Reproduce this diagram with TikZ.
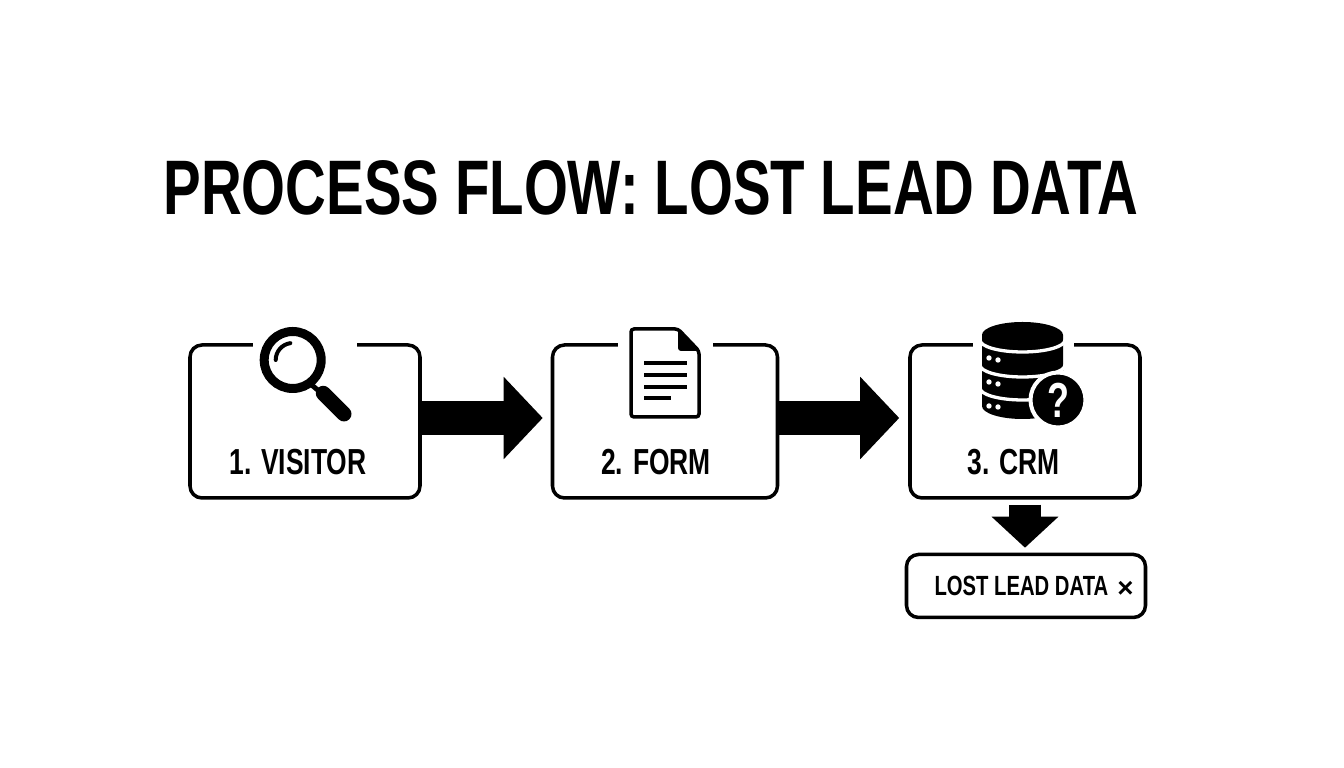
\documentclass[tikz,border=0pt]{standalone}
\usepackage{fontspec}
\setmainfont[FakeStretch=0.73]{Liberation Sans}
\newfontfamily\crossfont{Liberation Sans}
\usetikzlibrary{arrows.meta}
\newcommand{\titlefont}{\fontsize{22}{24}\selectfont\bfseries}
\newcommand{\stagefont}{\fontsize{10.3}{12}\selectfont\bfseries}
\newcommand{\lostfont}{\fontsize{7.9}{9}\selectfont\bfseries}
\tikzset{
  stagebox/.style={draw, line width=1pt, rounded corners=0.12cm, minimum height=1.53cm, inner sep=0pt},
  flowarrow/.style={line width=0.34cm, -{Triangle[length=0.39cm, width=0.8cm]}},
  downarrow/.style={line width=0.32cm, -{Triangle[length=0.31cm, width=0.65cm]}},
}

\begin{document}
\begin{tikzpicture}
      \useasboundingbox (0, 0) rectangle (13.44, 7.68);
      \node (title) at (6.51, 5.80) {\titlefont PROCESS FLOW: LOST LEAD DATA};
      \node[stagebox, minimum width=2.30cm] (visitor) at (3.05, 3.465) {};
      \node[stagebox, minimum width=2.25cm] (form) at (6.65, 3.465) {};
      \node[stagebox, minimum width=2.30cm] (crm) at (10.25, 3.465) {};
      \node[stagebox, minimum width=2.39cm, minimum height=0.63cm] (lost) at (10.26, 1.82) {};
      \node (lvisitor) at (2.98, 3.06) {\stagefont 1. VISITOR};
      \node (lform) at (6.56, 3.06) {\stagefont 2. FORM};
      \node (lcrm) at (10.14, 3.06) {\stagefont 3. CRM};
      \node (llost) at (10.34, 1.815) {\lostfont LOST LEAD DATA\kern0.09cm\raisebox{-0.02cm}{\crossfont\bfseries ×}};
      \draw[flowarrow, shorten >=0.08cm] ([yshift=0.035cm]visitor.east) -- ([yshift=0.035cm]form.west);
      \draw[flowarrow, shorten >=0.09cm] ([yshift=0.035cm]form.east) -- ([yshift=0.035cm]crm.west);
      \draw[downarrow, shorten <=0.05cm, shorten >=0.05cm] (crm.south) -- (crm.south |- lost.north);
      % gaps in the top edges
      \fill[white] (2.53, 4.15) rectangle (3.57, 4.33);
      \fill[white] (6.18, 4.15) rectangle (7.13, 4.33);
      \fill[white] (9.73, 4.15) rectangle (10.74, 4.33);
      % magnifier
      \draw[line width=0.09cm] (2.927, 4.08) circle (0.285);
      \draw[line width=0.04cm, line cap=round] (2.757, 4.08) arc[start angle=180, end angle=98, radius=0.17];
      \draw[line width=0.05cm] (3.117, 3.83) -- (3.217, 3.747);
      \draw[line width=0.15cm, line cap=round] (3.233, 3.747) -- (3.44, 3.54);
      % document
      \draw[line width=0.035cm, rounded corners=0.03cm] (6.31, 3.51) -- (6.31, 4.39) -- (6.78, 4.39) -- (6.99, 4.17) -- (6.99, 3.51) -- cycle;
      \fill[rounded corners=0.03cm] (6.78, 4.40) -- (7.00, 4.17) -- (6.78, 4.17) -- cycle;
      \draw[line width=0.045cm] (6.44, 4.05) -- (6.87, 4.05);
      \draw[line width=0.045cm] (6.44, 3.93) -- (6.87, 3.93);
      \draw[line width=0.045cm] (6.44, 3.81) -- (6.87, 3.81);
      \draw[line width=0.045cm] (6.44, 3.70) -- (6.71, 3.70);
      % database
      \fill (10.225, 4.33) ellipse (0.405 and 0.13);
      \fill (9.82, 4.33) -- (9.82, 3.62) arc[start angle=180, end angle=360, x radius=0.405, y radius=0.13] -- (10.63, 4.33) -- cycle;
      \draw[white, line width=0.033cm] (9.80, 4.28) arc[start angle=180, end angle=360, x radius=0.425, y radius=0.12];
      \draw[white, line width=0.033cm] (9.80, 4.03) arc[start angle=180, end angle=360, x radius=0.425, y radius=0.12];
      \draw[white, line width=0.033cm] (9.80, 3.80) arc[start angle=180, end angle=360, x radius=0.425, y radius=0.12];
      \fill[white] (9.89, 4.10) circle (0.027);
      \fill[white] (9.98, 4.08) circle (0.027);
      \fill[white] (9.89, 3.86) circle (0.027);
      \fill[white] (9.98, 3.84) circle (0.027);
      \fill[white] (9.89, 3.62) circle (0.027);
      \fill[white] (9.98, 3.61) circle (0.027);
      \node[circle, fill=black, draw=white, line width=0.04cm, minimum size=0.55cm, inner sep=0pt, text=white] (badge) at (10.58, 3.68) {\fontsize{14}{14}\selectfont\bfseries ?};
    \end{tikzpicture}
\end{document}
